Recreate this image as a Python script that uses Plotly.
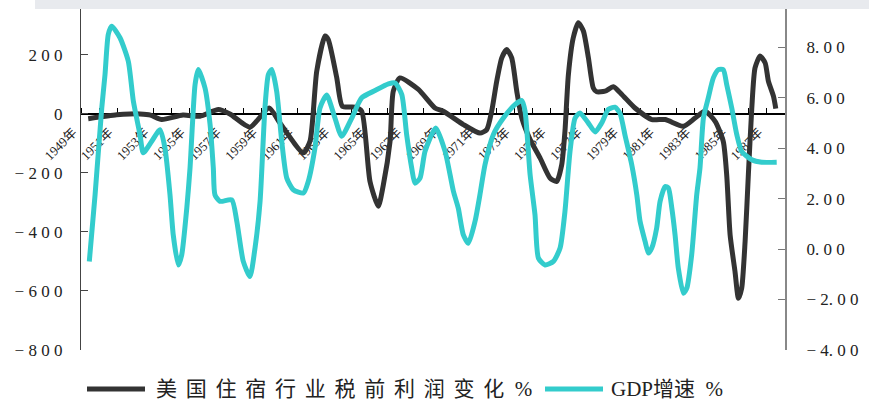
import plotly.graph_objects as go

# US lodging industry pre-tax profit change (%), traced on a fractional-year timeline
profit_year = [1949.40, 1950.98, 1951.71, 1952.27, 1952.85, 1953.47, 1954.65, 1955.59, 1956.61,
               1957.25, 1958.36, 1959.42, 1960.02, 1961.32, 1961.69, 1962.06, 1962.52, 1962.70,
               1963.17, 1963.48, 1964.18, 1964.55, 1965.01, 1965.47, 1965.75, 1966.12, 1966.30,
               1966.67, 1967.69, 1968.61, 1969.07, 1970.18, 1971.10, 1971.48, 1971.75, 1972.03,
               1972.31, 1972.58, 1972.86, 1973.14, 1973.42, 1973.88, 1974.43, 1974.98, 1975.35,
               1975.63, 1975.81, 1976.00, 1976.27, 1976.55, 1976.83, 1977.11, 1977.38, 1977.57,
               1978.03, 1978.49, 1978.96, 1979.69, 1980.62, 1981.36, 1982.37, 1983.02, 1983.57,
               1984.13, 1984.58, 1984.77, 1984.96, 1985.23, 1985.42, 1985.60, 1985.79, 1985.97,
               1986.16, 1986.34, 1986.62, 1986.90, 1987.08, 1987.36, 1987.49]
profit_pct = [-16, -3, 0, 0, -4, -19, -4, -8, 15,
              0, -45, 20, -31, -132, -92, 145, 264, 252,
              122, 26, 23, 9, -229, -313, -240, -93, 77,
              122, 83, 20, 9, -36, -65, -53, 9, 111,
              190, 218, 190, 77, -14, -87, -149, -217, -229,
              -172, -59, 133, 258, 309, 281, 190, 88, 75,
              77, 92, 66, 20, -19, -19, -42, -14, 9,
              -25, -93, -206, -410, -534, -625, -591, -432, -206,
              20, 156, 196, 173, 111, 60, 18]

# GDP growth (%), right axis
gdp_year = [1949.46, 1949.78, 1950.15, 1950.33, 1950.51, 1950.70, 1951.16, 1951.62, 1951.90,
            1952.27, 1952.45, 1952.92, 1953.38, 1953.65, 1953.93, 1954.11, 1954.39, 1954.58,
            1954.86, 1955.04, 1955.32, 1955.50, 1955.87, 1956.15, 1956.33, 1956.42, 1956.70,
            1957.35, 1957.63, 1957.99, 1958.36, 1958.64, 1958.92, 1959.19, 1959.38, 1959.57,
            1959.84, 1960.12, 1960.40, 1960.76, 1961.32, 1961.59, 1961.96, 1962.24, 1962.61,
            1963.07, 1963.44, 1964.00, 1964.55, 1965.29, 1966.03, 1966.40, 1966.77, 1967.04,
            1967.32, 1967.50, 1967.78, 1968.06, 1968.65, 1969.17, 1969.63, 1969.90, 1970.18,
            1970.46, 1970.83, 1971.10, 1971.38, 1971.84, 1972.40, 1973.04, 1973.42, 1973.60,
            1973.88, 1974.15, 1974.34, 1974.71, 1975.17, 1975.54, 1975.81, 1976.09, 1976.37,
            1976.64, 1977.10, 1977.48, 1977.85, 1978.21, 1978.58, 1978.86, 1979.14, 1979.51,
            1979.79, 1979.97, 1980.25, 1980.43, 1980.62, 1980.89, 1981.08, 1981.36, 1981.54,
            1981.73, 1981.91, 1982.09, 1982.37, 1982.56, 1982.83, 1983.11, 1983.29, 1983.48,
            1983.75, 1984.03, 1984.31, 1984.58, 1984.77, 1985.05, 1985.33, 1985.60, 1986.16,
            1986.71, 1987.54]
gdp_growth = [-0.49, 2.15, 5.59, 6.91, 8.50, 8.83, 8.37, 7.44, 5.86,
              4.53, 3.81, 4.27, 4.73, 4.00, 2.15, 0.56, -0.63, -0.23,
              1.62, 3.21, 6.52, 7.11, 6.38, 4.93, 3.21, 2.15, 1.89,
              1.95, 1.10, -0.49, -1.09, 0.04, 1.89, 5.59, 6.91, 7.11,
              6.25, 4.27, 2.81, 2.35, 2.22, 2.68, 4.00, 5.59, 6.10,
              5.19, 4.47, 5.19, 5.99, 6.28, 6.54, 6.58, 6.12, 4.53,
              3.21, 2.61, 2.81, 3.87, 4.80, 3.87, 2.29, 1.62, 0.56,
              0.23, 1.10, 2.15, 3.34, 4.53, 5.19, 5.72, 5.88, 5.46,
              2.94, 1.36, -0.36, -0.63, -0.49, 0.04, 1.49, 3.87, 5.19,
              5.39, 5.00, 4.64, 5.00, 5.53, 5.62, 5.38, 4.50, 3.34,
              2.15, 1.10, 0.30, -0.16, 0.04, 0.83, 1.89, 2.48, 2.42,
              1.62, 0.56, -0.76, -1.75, -1.55, -0.23, 2.15, 3.21, 5.19,
              5.99, 6.78, 7.11, 7.11, 6.52, 5.59, 4.53, 3.87, 3.54,
              3.44, 3.44]

label_years = list(range(1949, 1988, 2))
left_ticks = [-800, -600, -400, -200, 0, 200]
right_ticks = [-4, -2, 0, 2, 4, 6, 8]

NB = "\u00a0"


def spaced(s):
    return NB.join(s.replace("-", "\u2212"))


left_text = [spaced(str(v)) for v in left_ticks]
right_text = []
for v in right_ticks:
    s = f"{v:.2f}".replace("-", "\u2212")
    head, tail = s.split(".")
    right_text.append(NB.join(head) + "." + NB + NB.join(tail))

DARK = "#333333"
CYAN = "#33cccc"

fig = go.Figure()
fig.add_trace(go.Scatter(
    x=profit_year, y=profit_pct, mode="lines", yaxis="y",
    line=dict(color=DARK, width=5, shape="spline", smoothing=0.6),
    showlegend=False, hoverinfo="skip"))
fig.add_trace(go.Scatter(
    x=gdp_year, y=gdp_growth, mode="lines", yaxis="y2",
    line=dict(color=CYAN, width=5, shape="spline", smoothing=0.6),
    showlegend=False, hoverinfo="skip"))

zero_pos = 800 / (800 + 355.6)

fig.update_layout(
    width=869, height=402,
    margin=dict(l=81, r=84, t=9, b=52),
    paper_bgcolor="white", plot_bgcolor="white",
    xaxis=dict(
        range=[1949, 1988], anchor="free", position=zero_pos,
        showline=True, linecolor="black", linewidth=1.5,
        tickvals=[y + 0.5 for y in label_years],
        ticktext=[f"{y}年" for y in label_years],
        tickangle=-45, ticks="", showgrid=False, zeroline=False,
        ticklabelshift=-17, ticklabelstandoff=5,
        tickfont=dict(family="Liberation Serif, Noto Sans CJK SC", size=13, color="#222"),
        minor=dict(tick0=1949, dtick=1, ticks="inside", ticklen=5,
                   tickcolor="black", tickwidth=1, showgrid=False),
        layer="below traces"),
    yaxis=dict(
        range=[-800, 355.6], tickvals=left_ticks, ticktext=left_text,
        ticks="inside", ticklen=7, tickcolor="#444", tickwidth=1,
        showline=True, linecolor="#444", linewidth=1.3,
        showgrid=False, zeroline=False, ticklabelstandoff=14,
        tickfont=dict(family="Liberation Serif", size=17, color="#222")),
    yaxis2=dict(
        range=[-4, 9.51], overlaying="y", side="right", anchor="x",
        tickvals=right_ticks, ticktext=right_text,
        ticks="inside", ticklen=7, tickcolor="#777", tickwidth=1,
        showline=True, linecolor="#888", linewidth=2,
        showgrid=False, zeroline=False, ticklabelstandoff=16,
        tickfont=dict(family="Liberation Serif", size=17, color="#222")),
)

# light banner strip across the top edge
fig.add_shape(type="rect", xref="paper", yref="paper",
              x0=-0.0653, x1=1.12, y0=1.0, y1=1.03,
              fillcolor="#e8eaee", line=dict(width=0), layer="above")

# hand-placed legend at the bottom
leg_y = (350 - 389) / 341
pw = 704.0
GAP = "\u2004\u200a"


def px2paper(px):
    return (px - 81) / pw


def space_cjk(label):
    out = ""
    for i, c in enumerate(label):
        out += c
        nxt = label[i + 1] if i + 1 < len(label) else ""
        if ord(c) > 0x2e80 and nxt and ord(nxt) > 0x2e80:
            out += GAP
    return out


legend_items = [
    (87, 145, 155, DARK, space_cjk("美国住宿行业税前利润变化") + "\u2002%"),
    (545, 603, 610, CYAN, "GDP增速\u2002%"),
]
for x0, x1, tx, col, text in legend_items:
    fig.add_shape(type="line", xref="paper", yref="paper",
                  x0=px2paper(x0), x1=px2paper(x1), y0=leg_y, y1=leg_y,
                  line=dict(color=col, width=5))
    fig.add_annotation(xref="paper", yref="paper", x=px2paper(tx), y=leg_y,
                       xanchor="left", yanchor="middle", showarrow=False,
                       text=text, borderpad=0,
                       font=dict(family="Liberation Serif, Noto Sans CJK SC", size=21, color="#222"))

fig.write_html("out.html")
